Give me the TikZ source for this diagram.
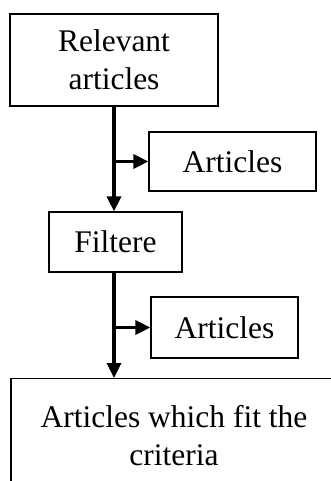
\documentclass[tikz,border=0pt]{standalone}
\usepackage{fontspec}
\setmainfont{Liberation Serif}
\usetikzlibrary{arrows.meta}
\tikzset{
  box/.style={draw=black, line width=1.2pt, inner sep=0pt, align=center,
    font=\fontsize{31.5}{38}\selectfont},
  arr/.style={line width=3.3pt, -{Triangle[length=15pt,width=14pt]}}
}
\begin{document}
\begin{tikzpicture}[x=1pt,y=-1pt]
\clip (0,0) rectangle (331,481);
\node[box, minimum width=208pt, minimum height=92pt] (top) at (114,60) {Relevant\\articles};
\node[box, minimum width=167pt, minimum height=59pt] (a1) at (232.5,161.5) {Articles};
\node[box, minimum width=133pt, minimum height=60pt] (filt) at (115.5,242) {Filtere};
\node[box, minimum width=147pt, minimum height=61pt] (a2) at (224.5,327.5) {Articles};
\node[box, minimum width=326pt, minimum height=114pt, anchor=north] (res) at (174,378) {Articles which fit the\\criteria};
\draw[arr] (top.south) -- (top.south |- filt.north);
\draw[arr] (top.south |- a1.west) -- (a1.west);
\draw[arr] (top.south |- filt.south) -- (top.south |- res.north);
\draw[arr] (top.south |- a2.west) -- (a2.west);
\end{tikzpicture}
\end{document}
